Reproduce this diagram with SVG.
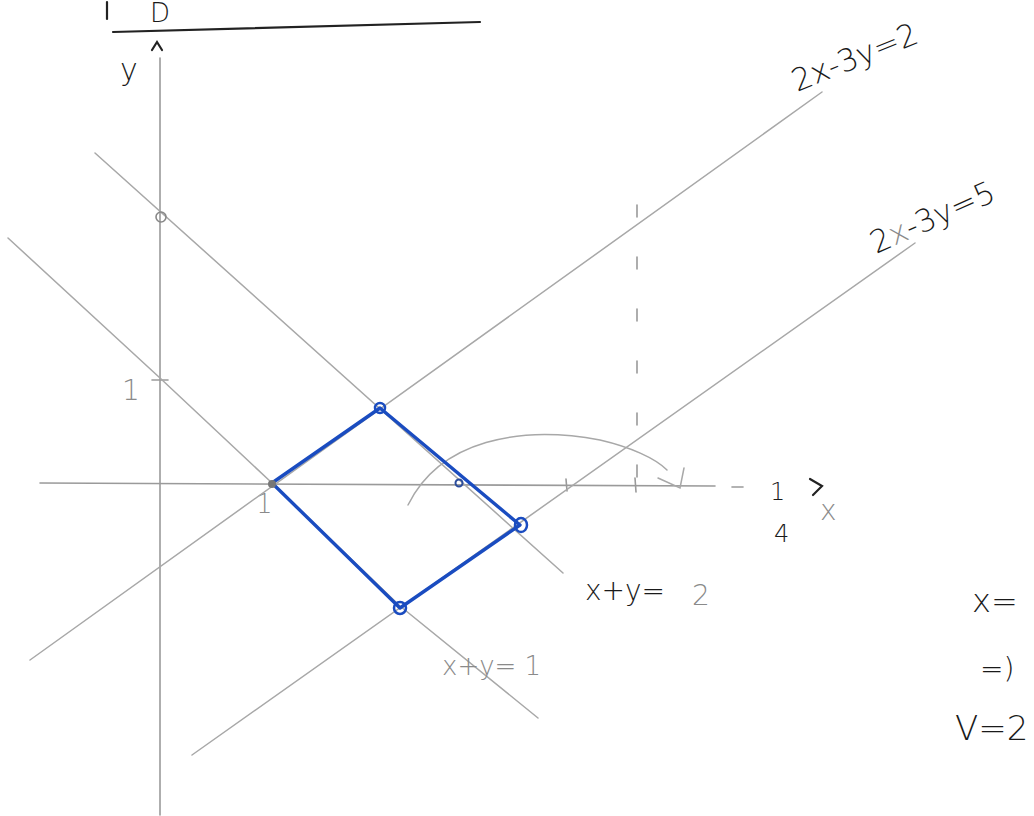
<svg xmlns="http://www.w3.org/2000/svg" width="1034" height="816" viewBox="0 0 1034 816">
<style>
.ax{stroke:#9a9a9a;stroke-width:1.6;fill:none;stroke-linecap:round}
.ln{stroke:#a8a8a8;stroke-width:1.5;fill:none;stroke-linecap:round}
.ink{stroke:#222;stroke-width:2.2;fill:none;stroke-linecap:round}
.blue{stroke:#1a4cc0;stroke-width:3.4;fill:none;stroke-linejoin:round;stroke-linecap:round}
.t{font-family:"DejaVu Sans","Liberation Sans",sans-serif;font-weight:300}
.g{fill:#8a8a8a}
.k{fill:#1a1a1a}
</style>
<rect width="1034" height="816" fill="#fff"/>
<g id="header">
<line class="ink" x1="113" y1="32" x2="480" y2="22"/>
<line class="ink" x1="107" y1="2" x2="107" y2="19"/>
<text class="t k" x="150" y="22" font-size="26" font-weight="normal">D</text>
</g>
<g id="axes">
<line class="ax" x1="160" y1="58" x2="160" y2="815"/>
<polyline class="ink" points="152,50 157,42 162,50" stroke="#555" stroke-width="1.6"/>
<text class="t k" x="120" y="80" font-size="30" fill="#444">y</text>
<line class="ax" x1="40" y1="483" x2="715" y2="486"/>
<line class="ax" x1="732" y1="487" x2="743" y2="487"/>
<text class="t k" x="770" y="500" font-size="24" fill="#444">1</text>
<text class="t k" x="774" y="542" font-size="24" fill="#444">4</text>
<polyline class="ink" points="810,479 822,486 813,495" stroke="#444" stroke-width="1.6"/>
<text class="t g" x="820" y="520" font-size="28">x</text>
<line class="ax" x1="152" y1="380" x2="168" y2="380"/>
<text class="t g" x="122" y="400" font-size="28">1</text>
<text class="t g" x="256" y="513" font-size="26">1</text>
<line class="ax" x1="566" y1="479" x2="567" y2="491"/>
<line class="ax" x1="635" y1="478" x2="636" y2="492"/>
<line class="ax" x1="637" y1="205" x2="637" y2="478" stroke-dasharray="12 40" stroke-width="1.2" stroke="#c4c4c4"/>
</g>
<g id="lines">
<line id="l-xy2" class="ln" x1="95" y1="153" x2="563" y2="573"/>
<polyline id="l-xy1" class="ln" points="8,238 160,378 272,483 400,606 538,718"/>
<line id="l-23y2" class="ln" x1="30" y1="660" x2="822" y2="92"/>
<line id="l-23y5" class="ln" x1="192" y1="755" x2="915" y2="243"/>
</g>
<g id="labels">
<text class="t k" x="585" y="600" font-size="28" fill="#333">x+y=</text>
<text class="t g" x="692" y="605" font-size="28">2</text>
<text class="t g" x="442" y="675" font-size="26">x+y= 1</text>
<text class="t k" x="0" y="0" font-size="31" fill="#222" transform="translate(797,92) rotate(-22)">2x-3y=2</text>
<text class="t k" x="0" y="0" font-size="31" fill="#222" transform="translate(876,254) rotate(-24)">2<tspan fill="#8a8a8a">x</tspan>-3y=5</text>
</g>
<g id="curve">
<path class="ln" stroke="#999" d="M408,505 C440,440 520,425 600,440 C630,447 655,458 667,470"/>
<polyline class="ln" stroke="#777" points="658,478 680,488 684,468"/>
</g>
<g id="region">
<polygon class="blue" points="272,483 380,408 520,525 400,608"/>
<circle cx="380" cy="408" r="5" fill="none" stroke="#1a4cc0" stroke-width="2.5"/>
<ellipse cx="521" cy="525" rx="6" ry="7" fill="none" stroke="#1a4cc0" stroke-width="2.5"/>
<circle cx="400" cy="608" r="6" fill="none" stroke="#1a4cc0" stroke-width="2.5"/>
<circle cx="459" cy="483" r="3.5" fill="none" stroke="#2a4c9c" stroke-width="2"/>
<circle cx="272" cy="484" r="4" fill="#777"/>
<circle cx="161" cy="217" r="5" fill="none" stroke="#888" stroke-width="1.6"/>
</g>
<g id="notes">
<text class="t k" x="972" y="612" font-size="32" font-weight="normal">x=</text>
<text class="t k" x="980" y="678" font-size="28" font-weight="normal">=)</text>
<text class="t k" x="955" y="740" font-size="34" font-weight="normal">V=2</text>
</g>
</svg>
